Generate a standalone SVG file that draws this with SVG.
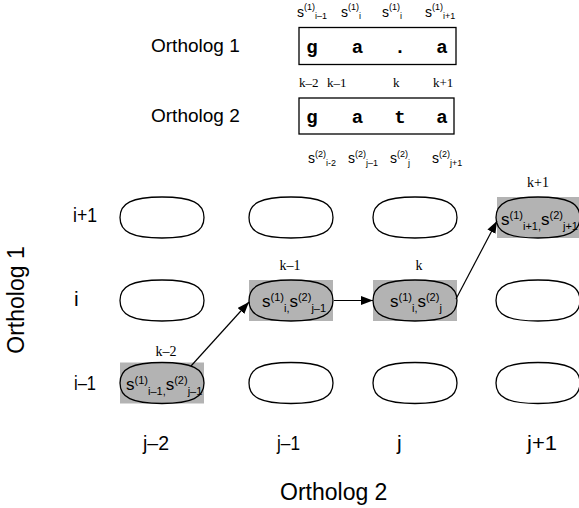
<svg xmlns="http://www.w3.org/2000/svg" width="579" height="508" viewBox="0 0 579 508">
<style>
.bg{fill:#ffffff}
.blob{fill:#ffffff;stroke:#000;stroke-width:1.3}
.gblob{fill:#b3b3b3;stroke:#000;stroke-width:1.3}
.gbox{fill:#b3b3b3}
.seq{fill:none;stroke:#000;stroke-width:1.3}
.sans{font-family:"Liberation Sans",Arial,sans-serif;fill:#000}
.mono{font-family:"Liberation Mono","Courier New",monospace;font-weight:bold;font-size:19px;fill:#000}
.serif{font-family:"Liberation Serif","Times New Roman",serif;fill:#000}
.edge{stroke:#000;stroke-width:1.2;fill:none;marker-end:url(#ah)}
.nt{font-size:17px}
.nt tspan.sm{font-size:11px}
.tl{font-size:14px}
.tl tspan.sm{font-size:9px}
</style>
<defs>
<path id="blob" d="M-42,0 C-42,-14.5 -30,-20.5 0,-20.5 C30,-20.5 42,-14.5 42,0 C42,14.5 30,20.5 0,20.5 C-30,20.5 -42,14.5 -42,0 Z"/>
<marker id="ah" markerUnits="userSpaceOnUse" markerWidth="13" markerHeight="10" refX="12" refY="4.5" orient="auto">
<path d="M0,0 L12,4.5 L0,9 Z" fill="#000"/>
</marker>
</defs>
<rect class="bg" x="0" y="0" width="579" height="508"/>

<g id="sequences">
<text class="sans" x="151" y="52" font-size="19">Ortholog 1</text>
<text class="sans" x="151" y="122" font-size="19">Ortholog 2</text>
<rect class="seq" x="299" y="27.5" width="157" height="37"/>
<rect class="seq" x="299" y="98" width="155" height="36"/>
<g class="mono" text-anchor="middle">
<text x="312" y="53">g</text><text x="357.5" y="53">a</text><text x="400" y="53">.</text><text x="442" y="53">a</text>
<text x="312" y="123">g</text><text x="357.5" y="123">a</text><text x="400" y="123">t</text><text x="442" y="123">a</text>
</g>
<g class="serif" font-size="13">
<text x="299" y="87">k–2</text><text x="327" y="87">k–1</text><text x="393" y="87">k</text><text x="433" y="87">k+1</text>
</g>
<g class="sans tl">
<text x="297" y="17">s<tspan class="sm" dy="-7">(1)</tspan><tspan class="sm" dy="9">i–1</tspan></text>
<text x="341" y="17">s<tspan class="sm" dy="-7">(1)</tspan><tspan class="sm" dy="9">i</tspan></text>
<text x="382" y="17">s<tspan class="sm" dy="-7">(1)</tspan><tspan class="sm" dy="9">i</tspan></text>
<text x="425" y="17">s<tspan class="sm" dy="-7">(1)</tspan><tspan class="sm" dy="9">i+1</tspan></text>
<text x="308" y="163">s<tspan class="sm" dy="-6">(2)</tspan><tspan class="sm" dy="9">i-2</tspan></text>
<text x="348" y="163">s<tspan class="sm" dy="-6">(2)</tspan><tspan class="sm" dy="9">j–1</tspan></text>
<text x="390" y="163">s<tspan class="sm" dy="-6">(2)</tspan><tspan class="sm" dy="9">j</tspan></text>
<text x="432" y="163">s<tspan class="sm" dy="-6">(2)</tspan><tspan class="sm" dy="9">j+1</tspan></text>
</g>
</g>

<g id="axis-labels" class="sans">
<text x="24" y="300" font-size="23" text-anchor="middle" transform="rotate(-90 24 300)">Ortholog 1</text>
<text x="280" y="500" font-size="23">Ortholog 2</text>
<text x="73" y="222" font-size="21" textLength="24" lengthAdjust="spacingAndGlyphs">i+1</text>
<text x="74" y="306" font-size="21">i</text>
<text x="74" y="390" font-size="21" textLength="22" lengthAdjust="spacingAndGlyphs">i–1</text>
<text x="143" y="450" font-size="21" textLength="26" lengthAdjust="spacingAndGlyphs">j–2</text>
<text x="277" y="450" font-size="21" textLength="23" lengthAdjust="spacingAndGlyphs">j–1</text>
<text x="397" y="450" font-size="21">j</text>
<text x="527" y="450" font-size="21" textLength="30" lengthAdjust="spacingAndGlyphs">j+1</text>
</g>

<g id="step-labels" class="serif" font-size="14" text-anchor="middle">
<text x="166" y="356">k–2</text>
<text x="290" y="269.5">k–1</text>
<text x="419" y="270">k</text>
<text x="538" y="187">k+1</text>
</g>

<g id="n-i1-j2"><use href="#blob" class="blob" transform="translate(162 217.5)"/></g>
<g id="n-i1-j1"><use href="#blob" class="blob" transform="translate(291 217.5)"/></g>
<g id="n-i1-j"><use href="#blob" class="blob" transform="translate(415 217.5)"/></g>
<g id="n-i1-jp1">
<rect class="gbox" x="497" y="197" width="84" height="41"/>
<use href="#blob" class="gblob" transform="translate(538 217.5)"/>
<text class="sans nt" x="501" y="225">s<tspan class="sm" dy="-6">(1)</tspan><tspan class="sm" dy="11">i+1,</tspan><tspan dy="-5">s</tspan><tspan class="sm" dy="-6">(2)</tspan><tspan class="sm" dy="11">j+1</tspan></text>
</g>

<g id="n-i-j2"><use href="#blob" class="blob" transform="translate(162 300.5)"/></g>
<g id="n-i-j1">
<rect class="gbox" x="249" y="280" width="84" height="41"/>
<use href="#blob" class="gblob" transform="translate(291 300.5)"/>
<text class="sans nt" x="262" y="307">s<tspan class="sm" dy="-6">(1)</tspan><tspan class="sm" dy="11">i,</tspan><tspan dy="-5">s</tspan><tspan class="sm" dy="-6">(2)</tspan><tspan class="sm" dy="11">j–1</tspan></text>
</g>
<g id="n-i-j">
<rect class="gbox" x="373" y="280" width="84" height="41"/>
<use href="#blob" class="gblob" transform="translate(415 300.5)"/>
<text class="sans nt" x="390" y="307">s<tspan class="sm" dy="-6">(1)</tspan><tspan class="sm" dy="11">i,</tspan><tspan dy="-5">s</tspan><tspan class="sm" dy="-6">(2)</tspan><tspan class="sm" dy="11">j</tspan></text>
</g>
<g id="n-i-jp1"><use href="#blob" class="blob" transform="translate(538 300.5)"/></g>

<g id="n-im1-j2">
<rect class="gbox" x="120" y="362.5" width="84" height="41"/>
<use href="#blob" class="gblob" transform="translate(162 383)"/>
<text class="sans nt" x="126" y="390">s<tspan class="sm" dy="-6">(1)</tspan><tspan class="sm" dy="11">i–1,</tspan><tspan dy="-5">s</tspan><tspan class="sm" dy="-6">(2)</tspan><tspan class="sm" dy="11">j–1</tspan></text>
</g>
<g id="n-im1-j1"><use href="#blob" class="blob" transform="translate(291 383)"/></g>
<g id="n-im1-j"><use href="#blob" class="blob" transform="translate(415 383)"/></g>
<g id="n-im1-jp1"><use href="#blob" class="blob" transform="translate(538 383)"/></g>

<g id="connectors">
<line class="edge" x1="191" y1="366" x2="249" y2="302"/>
<line class="edge" x1="334" y1="300.5" x2="373" y2="300.5"/>
<line class="edge" x1="456" y1="299" x2="497" y2="221"/>
</g>
</svg>
